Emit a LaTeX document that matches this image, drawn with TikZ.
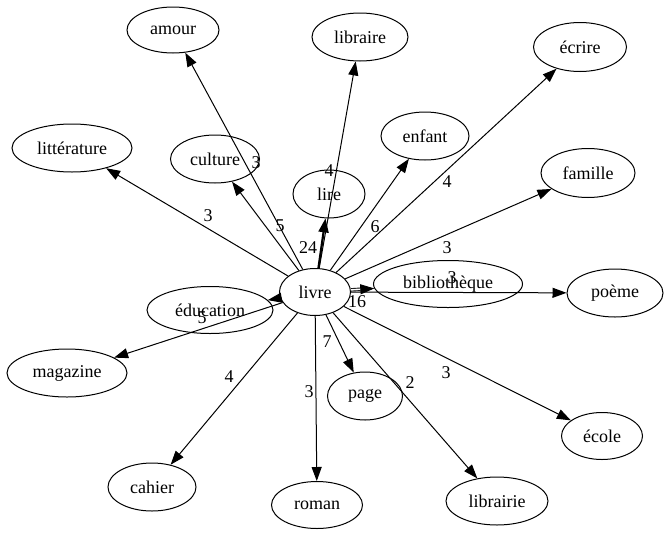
\documentclass[tikz,border=0pt]{standalone}
\usepackage{fontspec}
\setmainfont{Liberation Serif}
\usetikzlibrary{shapes.geometric,arrows.meta}
\begin{document}
\begin{tikzpicture}[x=1pt,y=-1pt,
  word/.style={draw, ellipse, line width=1pt, inner sep=0pt, font=\fontsize{18}{20}\selectfont},
  lab/.style={inner sep=0pt, font=\fontsize{18}{20}\selectfont},
  edge/.style={line width=1pt, -{Triangle[length=14pt,width=10pt]}},
  thickedge/.style={line width=2.2pt, -{Triangle[length=14pt,width=10pt]}},
  dbledge/.style={double, double distance=1.6pt, line width=0.9pt, -{Triangle[length=14pt,width=10pt]}}]
\fill[white] (0,0) rectangle (669,536);
\useasboundingbox (0,0) rectangle (669,536);
% nodes
\node[word, minimum width=71pt, minimum height=47pt] (livre) at (315,292) {livre};
\node[word, minimum width=92pt, minimum height=46pt] (amour) at (173,30) {amour};
\node[word, minimum width=96pt, minimum height=48pt] (libraire) at (360,37) {libraire};
\node[word, minimum width=93pt, minimum height=49pt] (ecrire) at (580,47) {écrire};
\node[word, minimum width=120pt, minimum height=48pt] (litterature) at (72,148) {littérature};
\node[word, minimum width=89pt, minimum height=48pt] (culture) at (215,159) {culture};
\node[word, minimum width=88pt, minimum height=48pt] (enfant) at (425,136) {enfant};
\node[word, minimum width=72pt, minimum height=48pt] (lire) at (329,194) {lire};
\node[word, minimum width=94pt, minimum height=49pt] (famille) at (588,173) {famille};
\node[word, minimum width=149pt, minimum height=47pt] (biblio) at (448,284) {bibliothèque};
\node[word, minimum width=96pt, minimum height=48pt] (poeme) at (615,293) {poème};
\node[word, minimum width=126pt, minimum height=47pt] (education) at (210,310) {éducation};
\node[word, minimum width=120pt, minimum height=48pt] (magazine) at (67,373) {magazine};
\node[word, minimum width=75pt, minimum height=48pt] (page) at (365,396) {page};
\node[word, minimum width=81pt, minimum height=47pt] (ecole) at (602,436) {école};
\node[word, minimum width=88pt, minimum height=48pt] (cahier) at (152,487) {cahier};
\node[word, minimum width=91pt, minimum height=47pt] (roman) at (317,505) {roman};
\node[word, minimum width=102pt, minimum height=48pt] (librairie) at (497,501) {librairie};
% edges
\draw[edge] (livre) -- (amour);
\draw[edge] (livre) -- (libraire);
\draw[edge] (livre) -- (ecrire);
\draw[edge] (livre) -- (litterature);
\draw[edge] (livre) -- (culture);
\draw[edge] (livre) -- (enfant);
\draw[thickedge] (livre) -- (lire);
\draw[edge] (livre) -- (famille);
\draw[dbledge] (livre) -- (biblio);
\draw[edge] (livre) -- (poeme);
\draw[edge] (livre) -- (education);
\draw[edge] (livre) -- (magazine);
\draw[edge] (livre) -- (page);
\draw[edge] (livre) -- (ecole);
\draw[edge] (livre) -- (cahier);
\draw[edge] (livre) -- (roman);
\draw[edge] (livre) -- (librairie);
% labels
\node[lab] (l1) at (256,163) {3};
\node[lab] (l2) at (329,171) {4};
\node[lab] (l3) at (447,182) {4};
\node[lab] (l4) at (208,216) {3};
\node[lab] (l5) at (280,226) {5};
\node[lab] (l6) at (375,227) {6};
\node[lab] (l7) at (308,248) {24};
\node[lab] (l8) at (447,248) {3};
\node[lab] (l9) at (357,302) {16};
\node[lab] (l10) at (452,278) {3};
\node[lab] (l11) at (202,318) {5};
\node[lab] (l12) at (229,377) {4};
\node[lab] (l13) at (327,342) {7};
\node[lab] (l14) at (309,392) {3};
\node[lab] (l15) at (410,383) {2};
\node[lab] (l16) at (446,373) {3};
\end{tikzpicture}
\end{document}
